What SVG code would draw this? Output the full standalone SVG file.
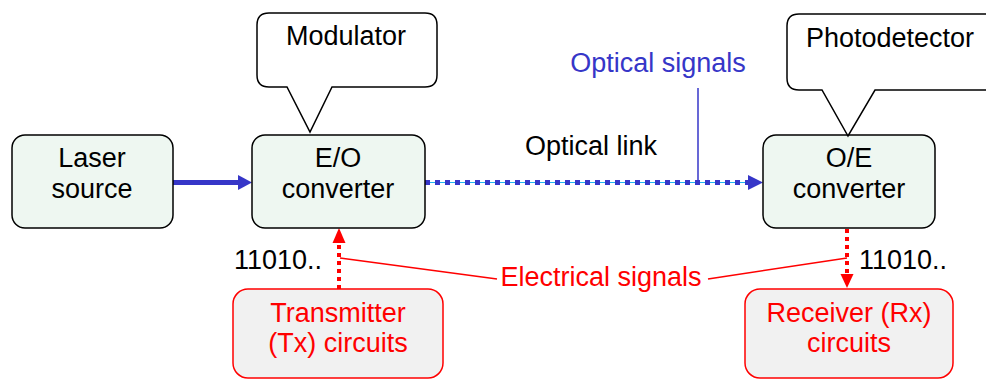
<svg xmlns="http://www.w3.org/2000/svg" width="986" height="379" viewBox="0 0 986 379">
<style>
text{font-family:"Liberation Sans",Arial,sans-serif;font-size:27px;text-anchor:middle;fill:#000}
.box{fill:#eef7f1;stroke:#000;stroke-width:1.5}
.call{fill:#fff;stroke:#000;stroke-width:1.5;stroke-linejoin:miter}
.ebox{fill:#f1f1f1;stroke:#ff0000;stroke-width:1.5}
.red{fill:#ff0000}
.blue{fill:#3636c8}
</style>
<rect width="986" height="379" fill="#fff"/>
<g id="connectors">
  <line x1="173" y1="182.5" x2="244" y2="182.5" stroke="#3636c8" stroke-width="5"/>
  <polygon points="238,175 252,182.5 238,190" fill="#3636c8"/>
  <line x1="425" y1="182.5" x2="750" y2="182.5" stroke="#22b4f0" stroke-width="1"/>
  <line x1="425" y1="182.5" x2="750" y2="182.5" stroke="#3636c8" stroke-width="5" stroke-dasharray="5 5"/>
  <polygon points="748,175 763,182.5 748,190" fill="#3636c8"/>
  <line x1="698" y1="88" x2="698" y2="182" stroke="#3636c8" stroke-width="1.5"/>
  <line x1="339" y1="289" x2="339" y2="240" stroke="#ff0000" stroke-width="4" stroke-dasharray="4 4"/>
  <polygon points="332.5,243 339,228 345.5,243" fill="#ff0000"/>
  <line x1="847" y1="229" x2="847" y2="277" stroke="#ff0000" stroke-width="4" stroke-dasharray="4 4"/>
  <polygon points="840.5,274 847,288 853.5,274" fill="#ff0000"/>
  <line x1="340" y1="258" x2="497" y2="279" stroke="#ff0000" stroke-width="1.5"/>
  <line x1="708" y1="279" x2="847" y2="258" stroke="#ff0000" stroke-width="1.5"/>
</g>
<g id="laser">
  <rect class="box" x="12" y="135" width="161" height="93" rx="13"/>
  <text x="92" y="167">Laser</text>
  <text x="92" y="198">source</text>
</g>
<g id="eo">
  <rect class="box" x="252" y="135" width="173" height="93" rx="13"/>
  <text x="338" y="167">E/O</text>
  <text x="338" y="198">converter</text>
</g>
<g id="oe">
  <rect class="box" x="763" y="135" width="172" height="93" rx="13"/>
  <text x="849" y="167">O/E</text>
  <text x="849" y="198">converter</text>
</g>
<g id="modulator">
  <path class="call" d="M269,13 H425 Q437,13 437,25 V75 Q437,87 425,87 H332 L310,132 L287,87 H269 Q257,87 257,75 V25 Q257,13 269,13 Z"/>
  <text x="346" y="45">Modulator</text>
</g>
<g id="photodetector">
  <path class="call" d="M799,14 H1000 V90 H875 L848,136 L822,90 H799 Q787,90 787,78 V26 Q787,14 799,14 Z"/>
  <text x="890" y="47">Photodetector</text>
</g>
<g id="tx">
  <rect class="ebox" x="233" y="289" width="210" height="89" rx="15"/>
  <text class="red" x="338" y="322">Transmitter</text>
  <text class="red" x="338" y="352">(Tx) circuits</text>
</g>
<g id="rx">
  <rect class="ebox" x="745" y="289" width="208" height="89" rx="15"/>
  <text class="red" x="849" y="322">Receiver (Rx)</text>
  <text class="red" x="849" y="352">circuits</text>
</g>
<g id="labels">
  <text class="blue" x="658" y="72">Optical signals</text>
  <text x="591" y="155">Optical link</text>
  <text x="278" y="269">11010..</text>
  <text x="903" y="269">11010..</text>
  <text class="red" x="601" y="286">Electrical signals</text>
</g>
</svg>
